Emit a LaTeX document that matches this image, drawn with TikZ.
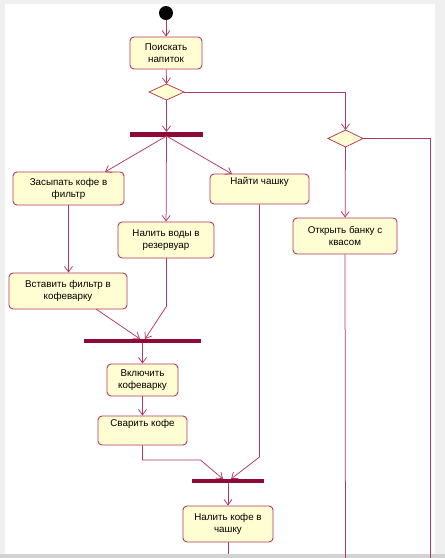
\documentclass[tikz,border=0pt]{standalone}
\usepackage{fontspec}
\setmainfont{Liberation Sans}
\usetikzlibrary{arrows.meta}
\definecolor{lnc}{HTML}{B03A5E}
\definecolor{boxfill}{HTML}{FFFDD2}
\definecolor{barc}{HTML}{8E0B38}
\tikzset{
  act/.style={draw=lnc, fill=boxfill, rounded corners=4pt, line width=0.9pt, align=center,
    font=\fontsize{9.8}{12}\selectfont, inner sep=0pt},
  flow/.style={draw=lnc, line width=0.75pt, -{Straight Barb[length=5.5pt,width=8pt]}},
  plain/.style={draw=lnc, line width=0.75pt},
  bar/.style={fill=barc, draw=none, minimum height=4.5pt, inner sep=0pt},
  dec/.style={draw=lnc, fill=boxfill, line width=0.75pt},
}
\begin{document}
\begin{tikzpicture}[x=1pt,y=-1pt]
\useasboundingbox (0,0) rectangle (445,558);
\fill[gray!12] (0,0) rectangle (445,558);
\fill[white] (5,4) rectangle (435,554);
\fill[gray!35] (0,554) rectangle (445,558);
% start
\node[circle, fill=black, minimum size=14pt, inner sep=0pt] (start) at (166,13) {};
% activities
\node[act, minimum width=72pt, minimum height=32pt] (poisk) at (166,53) {Поискать\\напиток};
\node[act, minimum width=111pt, minimum height=33pt] (zasyp) at (68.5,188.5) {Засыпать кофе в\\фильтр};
\node[act, minimum width=96pt, minimum height=36pt] (nalvod) at (166,240) {Налить воды в\\резервуар};
\node[act, minimum width=99pt, minimum height=30pt] (naiti) at (259.5,189) {Найти чашку\\\strut};
\node[act, minimum width=104pt, minimum height=36pt] (otkr) at (345,236) {Открыть банку с\\квасом};
\node[act, minimum width=118pt, minimum height=36pt] (vstav) at (68,291) {Вставить фильтр в\\кофеварку};
\node[act, minimum width=71pt, minimum height=32pt] (vkl) at (142.5,380) {Включить\\кофеварку};
\node[act, minimum width=89pt, minimum height=29pt] (svar) at (142.5,430.5) {Сварить кофе\\\strut};
\node[act, minimum width=90pt, minimum height=36pt] (nalk) at (228,524) {Налить кофе в\\чашку};
% decisions
\draw[dec] (149,92) -- (166.5,84) -- (184,92) -- (166.5,100) -- cycle;
\coordinate (d1t) at (166.5,84); \coordinate (d1b) at (166.5,100); \coordinate (d1r) at (184,92);
\draw[dec] (328,138.5) -- (345.5,130) -- (363,138.5) -- (345.5,147) -- cycle;
\coordinate (d2t) at (345.5,130); \coordinate (d2b) at (345.5,147); \coordinate (d2r) at (363,138.5);
% bars
\node[bar, minimum width=73pt] (bar1) at (166.5,134.5) {};
\node[bar, minimum width=117pt] (bar2) at (142.5,341) {};
\node[bar, minimum width=72pt] (bar3) at (228,481) {};
% connectors
\draw[flow] (start) -- (poisk);
\draw[flow] (poisk) -- (d1t);
\draw[flow] (d1b) -- (bar1);
\draw[flow] (d1r) -| (d2t);
\coordinate (rbot) at (430,558);
\draw[plain] (d2r) -| (rbot);
\draw[flow] (d2b) -- (otkr);
\coordinate (obot) at (345.5,558);
\draw[plain] (otkr.south) -- (obot);
\coordinate (b1c) at (166.5,136);
\draw[flow] (b1c) -- (105,172);
\draw[flow] (b1c) -- (nalvod);
\draw[flow] (b1c) -- (232,174);
\draw[flow] (zasyp.south) -- (vstav.north -| zasyp.south);
\draw[flow] (96,309) -- (140,339);
\coordinate (nvb) at (166,307);
\draw[plain] (nalvod.south) -- (nvb);
\draw[flow] (nvb) -- (145,339);
\draw[flow] (142.5,343) -- (vkl);
\draw[flow] (vkl) -- (svar);
\coordinate (sv1) at (142.5,460);
\coordinate (sv2) at (200.5,460);
\draw[flow] (svar.south) -- (sv1) -- (sv2) -- (223,479);
\coordinate (nc1) at (259.5,457);
\draw[flow] (naiti.south) -- (nc1) -- (231,479);
\draw[flow] (228,483) -- (nalk);
\coordinate (nkb) at (228,554);
\draw[plain] (nalk.south) -- (nkb);
\end{tikzpicture}
\end{document}
